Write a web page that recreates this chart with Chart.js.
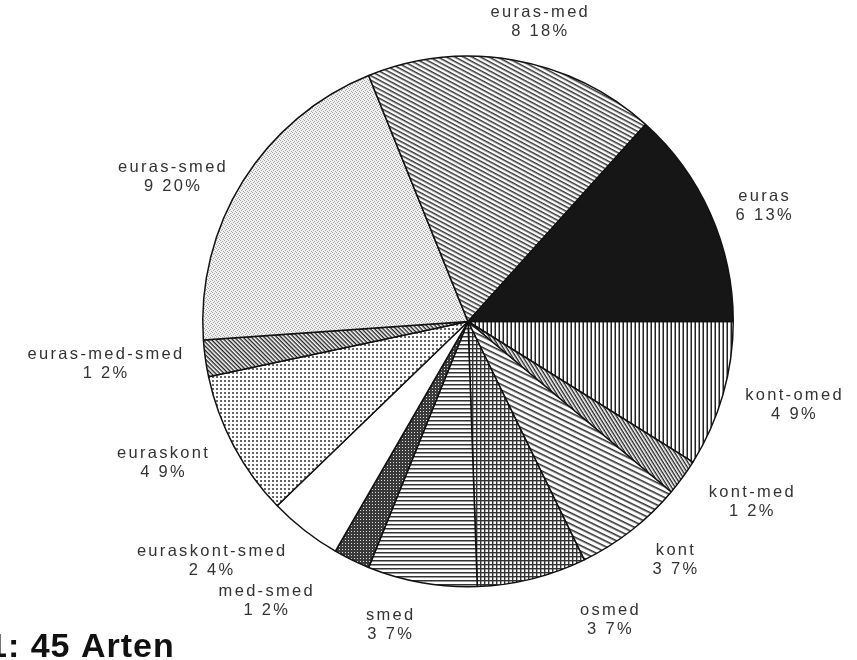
<!DOCTYPE html>
<html>
<head>
<meta charset="utf-8">
<script src="https://cdn.jsdelivr.net/npm/chart.js@4/dist/chart.umd.min.js"></script>
<style>
  html, body { margin: 0; padding: 0; background: #fff; }
  #wrap { position: relative; width: 857px; height: 660px; }
</style>
</head>
<body>
<div id="wrap"><canvas id="c" width="857" height="660"></canvas></div>
<script>
// ---- data (clockwise from 3 o'clock) ----
const categories = ['kont-omed', 'kont-med', 'kont', 'osmed', 'smed', 'med-smed',
  'euraskont-smed', 'euraskont', 'euras-med-smed', 'euras-smed', 'euras-med', 'euras'];
const speciesCounts = [4, 1, 3, 3, 3, 1, 2, 4, 1, 9, 8, 6];
const totalLabel = '1: 45 Arten';

// ---- pattern helpers ----
function tile(w, h, draw) {
  const c = document.createElement('canvas');
  c.width = w; c.height = h;
  const g = c.getContext('2d');
  g.fillStyle = '#fff'; g.fillRect(0, 0, w, h);
  draw(g, w, h);
  return c;
}
const ctx0 = document.createElement('canvas').getContext('2d');
function linePattern(spacing, lineW, angleDeg, color, bg) {
  const c = tile(8, spacing, (g, w, h) => {
    if (bg) { g.fillStyle = bg; g.fillRect(0, 0, w, h); }
    g.fillStyle = color; g.fillRect(0, 0, w, lineW);
  });
  const p = ctx0.createPattern(c, 'repeat');
  p.setTransform(new DOMMatrix().rotate(angleDeg));
  return p;
}
function gridPattern(spacing, lineW, color) {
  const c = tile(spacing, spacing, (g, w, h) => {
    g.fillStyle = color; g.fillRect(0, 0, w, lineW); g.fillRect(0, 0, lineW, h);
  });
  return ctx0.createPattern(c, 'repeat');
}
function dotPattern(spacing, dot, color, bg) {
  const c = tile(spacing, spacing, (g, w, h) => {
    if (bg) { g.fillStyle = bg; g.fillRect(0, 0, w, h); }
    g.fillStyle = color; g.fillRect(0, 0, dot, dot);
  });
  return ctx0.createPattern(c, 'repeat');
}
function stipplePattern() {
  const c = tile(4, 4, (g) => {
    g.fillStyle = '#f0f0f0'; g.fillRect(0, 0, 4, 4);
    g.fillStyle = '#a8a8a8';
    [[0,0],[2,1],[1,2],[3,3]].forEach(([x, y]) => g.fillRect(x, y, 1, 1));
  });
  return ctx0.createPattern(c, 'repeat');
}

const fills = [
  linePattern(4, 1.5, 90, '#222'),          // kont-omed: vertical lines
  linePattern(3, 1.4, 58, '#222'),          // kont-med: steep diagonal
  linePattern(5, 1.6, 26, '#333'),          // kont: shallow diagonal
  gridPattern(4, 1.4, '#333'),              // osmed: crosshatch
  linePattern(4, 1.5, 0, '#333'),           // smed: horizontal lines
  dotPattern(3, 1, '#ddd', '#3a3a3a'),      // med-smed: dark dotted
  '#ffffff',                                 // euraskont-smed: white
  dotPattern(4, 2, '#666'),                  // euraskont: dot grid
  linePattern(3, 1.4, 45, '#222'),          // euras-med-smed: dense diagonal
  stipplePattern(),                          // euras-smed: light stipple
  linePattern(4.5, 1.5, 28, '#333'),        // euras-med: diagonal
  '#161616'                                  // euras: near black
];

// ---- label plugin ----
const labelPlugin = {
  id: 'outerLabels',
  afterDatasetsDraw(chart, args, opts) {
    const { ctx } = chart;
    const meta = chart.getDatasetMeta(0);
    const data = chart.data.datasets[0].data;
    const total = data.reduce((a, b) => a + b, 0);
    ctx.save();
    ctx.font = opts.font;
    ctx.fillStyle = opts.color;
    if ('letterSpacing' in ctx) ctx.letterSpacing = opts.letterSpacing;
    meta.data.forEach((arc, i) => {
      const mid = (arc.startAngle + arc.endAngle) / 2;
      const r = arc.outerRadius + opts.gap;
      const cs = Math.cos(mid), sn = Math.sin(mid);
      const nudge = opts.nudge[chart.data.labels[i]] || [0, 0];
      let ax = arc.x + r * cs + nudge[0];
      let ay = arc.y + r * sn + nudge[1];
      const lines = [chart.data.labels[i], data[i] + ' ' + Math.round(data[i] / total * 100) + '%'];
      const widths = lines.map(t => ctx.measureText(t).width);
      const bw = Math.max(...widths);
      const lh = opts.lineHeight;
      const bh = lh * lines.length;
      let left = cs >= 0 ? ax : ax - bw;
      let top;
      if (sn > 0.8) top = ay;
      else if (sn < -0.8) top = ay - bh;
      else top = ay - bh / 2;
      ctx.textBaseline = 'middle';
      ctx.textAlign = 'center';
      lines.forEach((t, k) => {
        ctx.fillText(t, left + bw / 2, top + lh * (k + 0.5));
      });
    });
    ctx.restore();

    // caption at bottom-left
    ctx.save();
    ctx.font = opts.captionFont;
    ctx.fillStyle = '#111';
    if ('letterSpacing' in ctx) ctx.letterSpacing = '1px';
    ctx.textBaseline = 'alphabetic';
    ctx.textAlign = 'left';
    ctx.fillText(totalLabel, -12, 657);
    ctx.restore();
  }
};

new Chart(document.getElementById('c'), {
  type: 'pie',
  data: {
    labels: categories,
    datasets: [{
      data: speciesCounts,
      backgroundColor: fills,
      borderColor: '#111',
      borderWidth: 1.5,
      hoverOffset: 0
    }]
  },
  options: {
    responsive: false,
    animation: false,
    rotation: 90,
    layout: { padding: { left: 202, right: 123, top: 55, bottom: 72 } },
    plugins: {
      legend: { display: false },
      tooltip: { enabled: false },
      outerLabels: {
        font: '16.5px "Liberation Sans", Arial, sans-serif',
        color: '#333',
        letterSpacing: '2.3px',
        gap: 20,
        lineHeight: 19,
        captionFont: 'bold 34px "Liberation Sans", Arial, sans-serif',
        nudge: {
          'euras-med': [-27, 0], 'euras': [7, 0], 'kont-med': [10, 13], 'kont': [9, 14],
          'osmed': [43, 3], 'smed': [-3, 4], 'med-smed': [-28, 4], 'euraskont-smed': [-5, 15],
          'euraskont': [-6, 8], 'euras-med-smed': [-1, 3], 'euras-smed': [2, 7], 'kont-omed': [3, 5]
        }
      }
    }
  },
  plugins: [labelPlugin]
});
</script>
</body>
</html>
